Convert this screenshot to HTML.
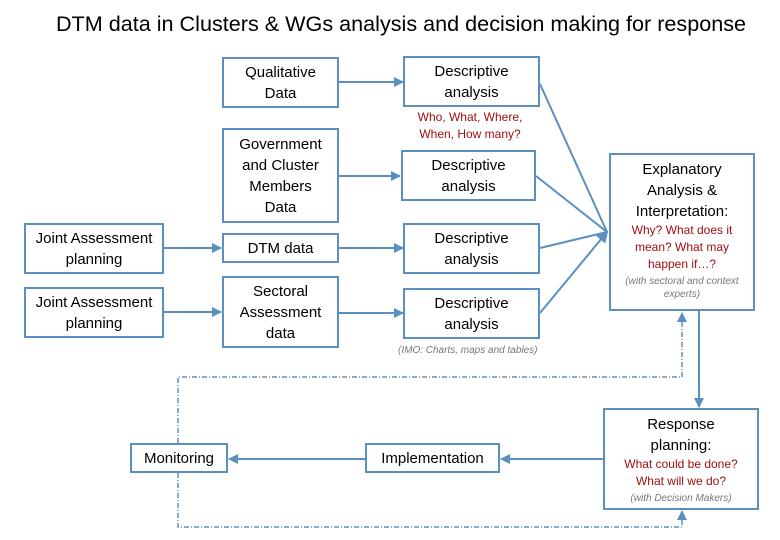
<!DOCTYPE html>
<html><head><style>
body{margin:0;background:#fff;font-family:"Liberation Sans",sans-serif;}
.b{position:absolute;border:2px solid #5b8fc0;box-sizing:border-box;display:flex;flex-direction:column;align-items:center;justify-content:center;text-align:center;font-size:15px;line-height:21px;color:#000;background:#fff}
.r{color:#a01010;font-size:12px;line-height:17px}
.g{color:#777;font-style:italic;font-size:10px;line-height:13px}
.t{position:absolute;text-align:center}
</style></head><body>
<div style="position:relative;width:780px;height:540px;overflow:hidden">
<div class="t" style="left:0;width:802px;top:11px;font-size:21.6px">DTM data in Clusters &amp; WGs analysis and decision making for response</div>
<svg width="780" height="540" style="position:absolute;left:0;top:0">
<defs><marker id="a" markerWidth="10" markerHeight="10" refX="9" refY="5" orient="auto" markerUnits="userSpaceOnUse"><path d="M0,0L10,5L0,10z" fill="#5b8fc0"/></marker>
<marker id="a2" markerWidth="12" markerHeight="12" refX="10" refY="6" orient="auto" markerUnits="userSpaceOnUse"><path d="M0,0L12,6L0,12z" fill="#5b8fc0"/></marker></defs>
<g stroke="#5b8fc0" stroke-width="2" fill="none">
<line x1="339" y1="82" x2="403" y2="82" marker-end="url(#a)"/>
<line x1="339" y1="176" x2="400" y2="176" marker-end="url(#a)"/>
<line x1="339" y1="248" x2="403" y2="248" marker-end="url(#a)"/>
<line x1="339" y1="313" x2="403" y2="313" marker-end="url(#a)"/>
<line x1="164" y1="248" x2="221" y2="248" marker-end="url(#a)"/>
<line x1="164" y1="312" x2="221" y2="312" marker-end="url(#a)"/>
<line x1="540" y1="84" x2="607" y2="232"/>
<line x1="536" y1="176" x2="607" y2="232"/>
<line x1="540" y1="248" x2="607" y2="232"/>
<line x1="540" y1="313" x2="607" y2="232" marker-end="url(#a2)"/>
<line x1="699" y1="311" x2="699" y2="407" marker-end="url(#a)"/>
<line x1="603" y1="459" x2="501" y2="459" marker-end="url(#a)"/>
<line x1="365" y1="459" x2="229" y2="459" marker-end="url(#a)"/>
</g>
<g stroke="#5b8fc0" stroke-width="1.5" fill="none" stroke-dasharray="5,2,1,2">
<polyline points="178,443 178,377 682,377 682,313" marker-end="url(#a)"/>
<polyline points="178,473 178,527 682,527 682,511" marker-end="url(#a)"/>
</g>
</svg>
<div class="b" style="left:222px;top:57px;width:117px;height:51px">Qualitative<br>Data</div>
<div class="b" style="left:403px;top:56px;width:137px;height:51px">Descriptive<br>analysis</div>
<div class="t r" style="left:400px;width:140px;top:109px">Who, What, Where,<br>When, How many?</div>
<div class="b" style="left:222px;top:128px;width:117px;height:95px">Government<br>and Cluster<br>Members<br>Data</div>
<div class="b" style="left:401px;top:150px;width:135px;height:51px">Descriptive<br>analysis</div>
<div class="b" style="left:609px;top:153px;width:146px;height:158px;justify-content:flex-start;padding-top:4px">Explanatory<br>Analysis &amp;<br>Interpretation:<span class="r">Why? What does it<br>mean? What may<br>happen if…?</span><span class="g" style="margin-top:2px">(with sectoral and context<br>experts)</span></div>
<div class="b" style="left:24px;top:223px;width:140px;height:51px">Joint Assessment<br>planning</div>
<div class="b" style="left:222px;top:233px;width:117px;height:30px">DTM data</div>
<div class="b" style="left:403px;top:223px;width:137px;height:51px">Descriptive<br>analysis</div>
<div class="b" style="left:24px;top:287px;width:140px;height:51px">Joint Assessment<br>planning</div>
<div class="b" style="left:222px;top:276px;width:117px;height:72px">Sectoral<br>Assessment<br>data</div>
<div class="b" style="left:403px;top:288px;width:137px;height:51px">Descriptive<br>analysis</div>
<div class="t g" style="left:398px;top:344px">(IMO: Charts, maps and tables)</div>
<div class="b" style="left:130px;top:443px;width:98px;height:30px">Monitoring</div>
<div class="b" style="left:365px;top:443px;width:135px;height:30px">Implementation</div>
<div class="b" style="left:603px;top:408px;width:156px;height:102px">Response<br>planning:<span class="r">What could be done?<br>What will we do?</span><span class="g" style="margin-top:2px">(with Decision Makers)</span></div>
</div>
</body></html>
